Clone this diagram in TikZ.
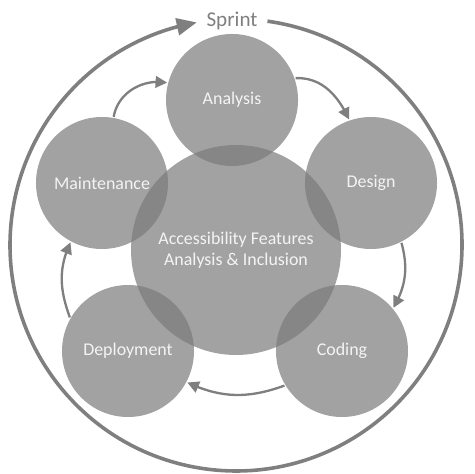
\documentclass[tikz,border=0pt]{standalone}
\usepackage{fontspec}
\setmainfont{Carlito}
\usepackage{tikz}
\usetikzlibrary{arrows.meta,bending}
\definecolor{linegray}{HTML}{7F7F7F}
\definecolor{labelwhite}{HTML}{F4F4F4}

\begin{document}
\begin{tikzpicture}[line width=2.2pt, draw=linegray,
    phase/.style={draw=none,circle,fill=black!52,fill opacity=0.7,text opacity=1,
      text=labelwhite,minimum size=4.4cm,font=\fontsize{17}{20}\selectfont},
    flow/.style={draw=linegray,line width=2.2pt,-{Triangle[length=11pt,width=11pt]}}]
  \useasboundingbox (-7.867,-7.467) rectangle (7.933,8.333);

  \node [phase,minimum size=7cm,align=center] (core) at ( 0, 0) {Accessibility Features\\Analysis \& Inclusion};

  \node [phase] (ana) at (-0.133, 5.0  ) {Analysis};
  \node [phase] (des) at ( 4.5  , 2.233) {Design};
  \node [phase] (cod) at ( 3.533,-3.367) {Coding};
  \node [phase] (dep) at (-3.6  ,-3.367) {Deployment};
  \node [phase] (mnt) at (-4.467, 2.233) {Maintenance};

  \path  (mnt.80)  edge [flow,out=80,in=170]   (ana.165);
  \path  (ana.19)  edge [flow,out=2,in=115]    (des.109);
  \path  (des.-63) edge [flow,out=-75,in=60]   (cod.40);
  \path  (cod.211) edge [flow,out=200,in=-25]  (dep.-28);
  \path  (dep.150) edge [flow,out=110,in=-115] (mnt.242);

  \coordinate (hub) at (0,0.167);
  \node [text=linegray,anchor=base,font=\fontsize{20}{24}\selectfont] (sprint) at (-0.133,7.433) {Sprint};
  \draw [line width=3.4pt,-{Triangle[length=19pt,width=16pt,flex]}]
    ([shift={(82:7.533)}]hub) arc [start angle=82, end angle=-260, radius=7.533];

\end{tikzpicture}
\end{document}
